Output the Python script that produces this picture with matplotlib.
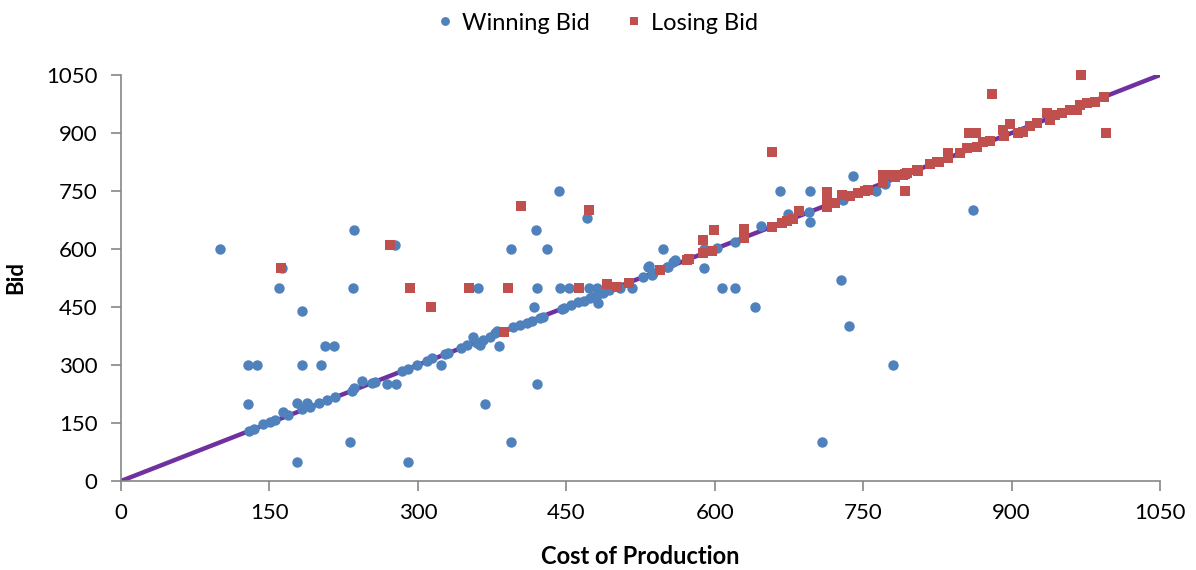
import matplotlib
matplotlib.use("Agg")
import matplotlib.pyplot as plt

# Winning bids (cost, bid)
win_cost = [100, 128, 137, 128, 160, 163, 183, 183, 178, 206, 215, 202, 235, 234, 231, 277, 290,
            269, 278, 323, 368, 394, 420, 382, 417, 361, 420, 444, 453, 473, 481, 482, 394, 431,
            419, 443, 471, 548, 589, 607, 620, 641, 728, 736, 780, 708, 666, 696, 740, 674, 696,
            861, 763,
            129, 134, 143, 151, 156, 164, 169, 178, 183, 188, 191, 200, 208, 216, 233, 235, 244,
            254, 257, 284, 290, 299, 309, 314, 327, 330, 344, 350, 356, 360, 363, 366, 373, 378,
            380, 396, 403, 410, 415, 423, 426, 446, 448, 455, 462, 468, 474, 477, 482, 487, 493,
            504, 516, 528, 533, 537, 552, 558, 560, 534, 538, 553, 589, 602, 620, 647, 695, 730,
            772]
win_bid = [600, 300, 300, 200, 500, 550, 440, 300, 50, 350, 350, 300, 650, 500, 100, 610, 50,
           250, 250, 300, 200, 100, 250, 350, 450, 500, 500, 500, 500, 500, 500, 460, 600, 600,
           650, 750, 680, 600, 550, 500, 500, 450, 520, 400, 300, 100, 750, 750, 790, 690, 670,
           700, 750,
           130, 134, 147, 152, 157, 178, 170, 201, 186, 201, 191, 202, 209, 218, 232, 240, 259,
           254, 256, 285, 290, 300, 310, 318, 328, 331, 344, 352, 372, 357, 352, 365, 372, 383,
           388, 398, 403, 409, 414, 422, 424, 445, 447, 455, 462, 465, 473, 476, 484, 486, 494,
           499, 500, 528, 553, 533, 553, 566, 571, 556, 538, 553, 600, 603, 618, 659, 695, 727,
           768]

# Losing bids (cost, bid)
lose_cost = [162, 272, 292, 313, 352, 391, 404, 473, 463, 658, 599, 588, 792, 857, 864, 880, 970,
             995,
             387, 491, 501, 513, 545, 572, 574, 588, 597, 630, 630, 658, 668, 673, 679, 685, 713,
             713, 713, 722, 729, 737, 745, 752, 755, 770, 770, 780, 782, 792, 804, 818, 825, 790,
             794, 805, 827, 836, 836, 848, 855, 865, 871, 878, 891, 892, 898, 906, 912, 919, 926,
             936, 939, 944, 951, 959, 966, 969, 976, 984, 993]
lose_bid = [551, 610, 500, 450, 500, 500, 710, 700, 500, 850, 649, 623, 750, 900, 900, 1000, 1050,
            900,
            385, 510, 502, 512, 546, 571, 574, 590, 595, 652, 628, 657, 667, 672, 678, 698, 747,
            734, 709, 719, 740, 737, 745, 750, 753, 791, 771, 791, 786, 794, 804, 820, 825, 791,
            796, 802, 825, 848, 835, 848, 861, 864, 877, 879, 908, 892, 923, 900, 903, 918, 926,
            952, 934, 947, 952, 959, 959, 972, 978, 980, 993]

line_x = [0, 1050]
line_y = [0, 1050]
ticks = [0, 150, 300, 450, 600, 750, 900, 1050]

plt.rcParams['font.family'] = ['Lato', 'DejaVu Sans']

fig = plt.figure(figsize=(11.96, 5.70), dpi=100)
ax = fig.add_axes([121/1196, 1 - 481/570, (1160-121)/1196, (481-75)/570])

ax.plot(line_x, line_y, color='#7030A0', lw=3.2, zorder=1, solid_capstyle='butt')
ax.plot(win_cost, win_bid, 'o', color='#4F81BD', markersize=7.5, markeredgewidth=0,
        label='Winning Bid', zorder=2, clip_on=False)
ax.plot(lose_cost, lose_bid, 's', color='#C0504D', markersize=7, markeredgewidth=0,
        label='Losing Bid', zorder=3, clip_on=False)

ax.set_xlim(0, 1050)
ax.set_ylim(0, 1050)
ax.set_xticks(ticks)
ax.set_yticks(ticks)
ax.tick_params(axis='both', labelsize=16, color='#868686', length=7, width=1.2, direction='out')
ax.tick_params(axis='y', pad=10)
ax.tick_params(axis='x', pad=9)
for s in ['top', 'right']:
    ax.spines[s].set_visible(False)
for s in ['left', 'bottom']:
    ax.spines[s].set_color('#868686')
    ax.spines[s].set_linewidth(1.2)

ax.set_xlabel('Cost of Production', fontsize=17, fontweight='bold', labelpad=16)
ax.set_ylabel('Bid', fontsize=16, fontweight='bold', labelpad=14)

leg = fig.legend(loc='upper center', bbox_to_anchor=(0.5, 1.015), ncol=2, frameon=False,
                 fontsize=17, markerscale=0.85, handlelength=0.6, handletextpad=0.4,
                 columnspacing=1.6)

fig.savefig('out.png', dpi=100)
